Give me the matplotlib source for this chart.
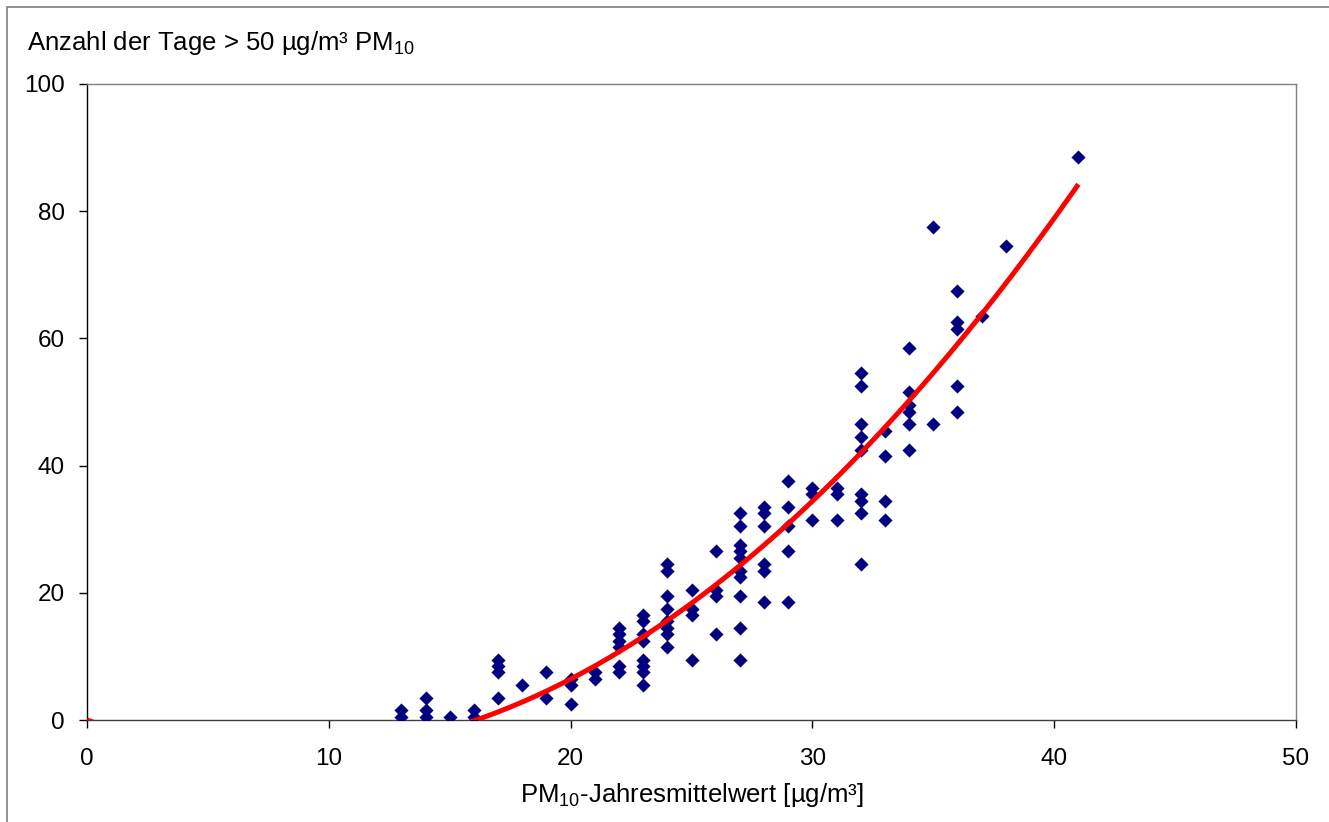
import numpy as np
import matplotlib
matplotlib.use("Agg")
import matplotlib.pyplot as plt
from matplotlib.patches import Rectangle

plt.rcParams['font.family'] = ['Liberation Sans', 'DejaVu Sans']
plt.rcParams['mathtext.fontset'] = 'custom'
plt.rcParams['mathtext.rm'] = 'Liberation Sans'

# PM10 annual mean [µg/m³] -> number of days > 50 µg/m³
pm_mean = {
    13: [1.5, 0.5],
    14: [3.5, 1.5, 0.5],
    15: [0.5],
    16: [1.5, 0.5],
    17: [9.5, 8.5, 7.5, 3.5],
    18: [5.5],
    19: [7.5, 3.5],
    20: [6.5, 5.5, 2.5],
    21: [7.5, 6.5],
    22: [14.5, 13.5, 12.5, 11.5, 8.5, 7.5],
    23: [16.5, 15.5, 13.5, 12.5, 9.5, 8.5, 7.5, 5.5],
    24: [24.5, 23.5, 19.5, 17.5, 15.5, 14.5, 13.5, 11.5],
    25: [20.5, 17.5, 16.5, 9.5],
    26: [26.5, 20.5, 19.5, 13.5],
    27: [32.5, 30.5, 27.5, 26.5, 25.5, 23.5, 22.5, 19.5, 14.5, 9.5],
    28: [33.5, 32.5, 30.5, 24.5, 23.5, 18.5],
    29: [37.5, 33.5, 30.5, 26.5, 18.5],
    30: [36.5, 35.5, 31.5],
    31: [36.5, 35.5, 31.5],
    32: [54.5, 52.5, 46.5, 44.5, 42.5, 35.5, 34.5, 32.5, 24.5],
    33: [45.5, 41.5, 34.5, 31.5],
    34: [58.5, 51.5, 49.5, 48.5, 46.5, 42.5],
    35: [77.5, 46.5],
    36: [67.5, 62.5, 61.5, 52.5, 48.5],
    37: [63.5],
    38: [74.5],
    41: [88.5],
}
x_vals = np.array([k for k, v in pm_mean.items() for _ in v], dtype=float)
y_vals = np.array([d for v in pm_mean.values() for d in v], dtype=float)

# 2nd-order polynomial trendline through the origin (coefficients)
trend_coef = [0.0825, -1.328]   # y = a*x^2 + b*x
trend_x_range = [0, 41]

x_ticks = [0, 10, 20, 30, 40, 50]
y_ticks = [0, 20, 40, 60, 80, 100]

xt = np.linspace(trend_x_range[0], trend_x_range[1], 400)
yt = trend_coef[0] * xt**2 + trend_coef[1] * xt

W, H = 1329, 822
fig = plt.figure(figsize=(W / 100, H / 100), dpi=100)
ax = fig.add_axes([87 / W, 1 - 720 / H, (1296 - 87) / W, (720 - 84) / H])

ax.scatter(x_vals, y_vals, marker='D', s=7.2**2, color='#000080', linewidths=0, zorder=3)
ax.plot(xt, yt, color='#ff0000', lw=3.6, zorder=4, solid_capstyle='butt')

ax.set_xlim(0, 50)
ax.set_ylim(0, 100)
ax.set_xticks(x_ticks)
ax.set_yticks(y_ticks)
ax.tick_params(axis='both', direction='out', length=6, width=1, labelsize=17.5, colors='black')
ax.tick_params(axis='x', pad=14)
ax.tick_params(axis='y', pad=10)
for s in ['top', 'right']:
    ax.spines[s].set_color('#808080')
ax.spines['left'].set_color('black')
ax.spines['bottom'].set_color('#404040')
for s in ax.spines.values():
    s.set_linewidth(1)

ax.set_xlabel('PM$_{10}$-Jahresmittelwert [µg/m³]', fontsize=18.5, labelpad=8)
fig.text(27 / W, 1 - 43 / H, 'Anzahl der Tage > 50 µg/m³ PM$_{10}$', fontsize=18.5,
         ha='left', va='center')

fig.patches.append(Rectangle((7 / W, -0.1), 1.2, 1.1 - 7 / H, transform=fig.transFigure,
                             fill=False, edgecolor='#808080', lw=1.2))

fig.savefig('out.png', dpi=100)
